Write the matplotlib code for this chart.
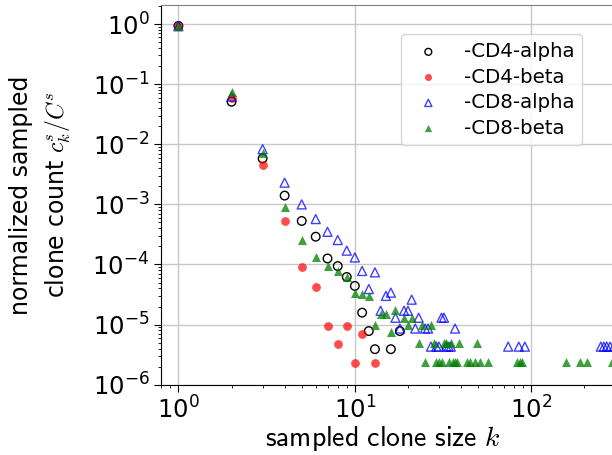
import matplotlib
matplotlib.use("Agg")
import matplotlib.pyplot as plt

plt.rcParams['mathtext.fontset'] = 'cm'

# CD4-alpha
k_cd4a = [1, 2, 3, 4, 5, 6, 7, 8, 9, 10, 11, 12, 13, 16, 18]
y_cd4a = [0.93, 0.051, 0.0058, 0.0014, 0.00053, 0.00029, 0.000126, 9.4e-5,
          6.2e-5, 4.4e-5, 1.58e-5, 7.8e-6, 3.9e-6, 3.9e-6, 7.8e-6]

# CD4-beta
k_cd4b = [1, 2, 3, 4, 5, 6, 7, 8, 9, 10, 11, 13]
y_cd4b = [0.93, 0.058, 0.0046, 0.00053, 9.1e-5, 4.2e-5, 9.4e-6, 4.7e-6,
          9.4e-6, 2.3e-6, 6.9e-6, 2.3e-6]

# CD8-alpha
k_cd8a = [1, 2, 3, 4, 5, 6, 7, 8, 9, 10, 11, 12, 13, 14, 15, 16, 17, 18, 19,
          20, 21, 22, 23, 25, 26, 27, 29, 30, 31, 32, 33, 34, 35, 37, 74, 85,
          92, 248, 258, 268, 280, 295]
y_cd8a = [0.92, 0.062, 0.0083, 0.0023, 0.001, 0.00057, 0.00035, 0.000255,
          0.00017, 0.000131, 7.8e-5, 3.9e-5, 7.4e-5, 1.7e-5, 3.0e-5, 3.4e-5,
          1.3e-5, 8.6e-6, 1.7e-5, 1.7e-5, 2.6e-5, 8.6e-6, 1.3e-5, 8.6e-6,
          8.6e-6, 4.3e-6, 4.3e-6, 4.3e-6, 1.3e-5, 1.3e-5, 4.3e-6, 4.3e-6,
          4.3e-6, 8.6e-6, 4.3e-6, 4.3e-6, 4.3e-6, 4.3e-6, 4.3e-6, 4.3e-6,
          4.3e-6, 4.3e-6]

# CD8-beta
k_cd8b = [1, 2, 3, 4, 5, 6, 7, 8, 9, 10, 11, 12, 13, 14, 15, 16, 17, 19, 20,
          21, 23, 24, 25, 27, 28, 29, 30, 31, 32, 33, 34, 35, 36, 37, 38, 39,
          43, 45, 48, 49, 51, 57, 83, 86, 89, 158, 189, 207, 287]
y_cd8b = [0.92, 0.075, 0.0072, 0.00091, 0.00026, 0.000135, 9.5e-5, 7.9e-5,
          6.2e-5, 3.4e-5, 3.2e-5, 3.0e-5, 9.8e-6, 1.5e-5, 1.5e-5, 7.5e-6,
          1.75e-5, 1.3e-5, 1.0e-5, 1.3e-5, 4.9e-6, 1.0e-5, 2.4e-6, 1.0e-5,
          4.9e-6, 2.4e-6, 2.4e-6, 2.4e-6, 4.9e-6, 4.9e-6, 2.4e-6, 4.9e-6,
          2.4e-6, 2.4e-6, 2.4e-6, 4.9e-6, 2.4e-6, 2.4e-6, 2.4e-6, 4.9e-6,
          2.4e-6, 2.4e-6, 2.4e-6, 2.4e-6, 2.4e-6, 2.4e-6, 2.4e-6, 2.4e-6,
          2.4e-6]

labels = ['-CD4-alpha', '-CD4-beta', '-CD8-alpha', '-CD8-beta']

fig = plt.figure(figsize=(6.12, 4.55), dpi=100)
ax = fig.add_axes([0.2636, 0.1545, 0.778, 0.8338])

ax.scatter(k_cd4a, y_cd4a, s=38, facecolors='none', edgecolors='black',
           linewidths=1.0, label=labels[0], zorder=3)
ax.scatter(k_cd4b, y_cd4b, s=40, color='red', alpha=0.7, linewidths=0,
           label=labels[1], zorder=3)
ax.scatter(k_cd8a, y_cd8a, s=42, marker='^', facecolors='none',
           edgecolors='blue', alpha=0.75, linewidths=1.0, label=labels[2], zorder=3)
ax.scatter(k_cd8b, y_cd8b, s=42, marker='^', color='green', alpha=0.75,
           linewidths=0, label=labels[3], zorder=3)

ax.set_xscale('log')
ax.set_yscale('log')
ax.set_xlim(0.8, 400)
ax.set_ylim(1e-6, 2.05)

ax.grid(True, which='major', color='#c8c8c8', linewidth=1.0)
ax.set_axisbelow(True)
ax.spines['top'].set_color('#808080')
ax.spines['right'].set_visible(False)
ax.tick_params(axis='both', which='major', labelsize=17.5, length=5)

ax.set_xlabel(r'$\mathsf{sampled\ clone\ size}\ k$', fontsize=20, labelpad=0.4)
ax.xaxis.label.set_x(0.465)
ax.set_ylabel('normalized sampled\nclone count $c_k^{s}/C^{s}$',
              fontsize=17, family='DejaVu Sans', linespacing=1.55)
ax.yaxis.set_label_coords(-0.185, 0.5)

leg = ax.legend(loc='upper right', bbox_to_anchor=(0.951, 0.925),
                bbox_transform=fig.transFigure, borderaxespad=0, fontsize=14.2,
                handletextpad=0.79, labelspacing=0.33, markerscale=0.8)

fig.savefig('out.png', dpi=100)
